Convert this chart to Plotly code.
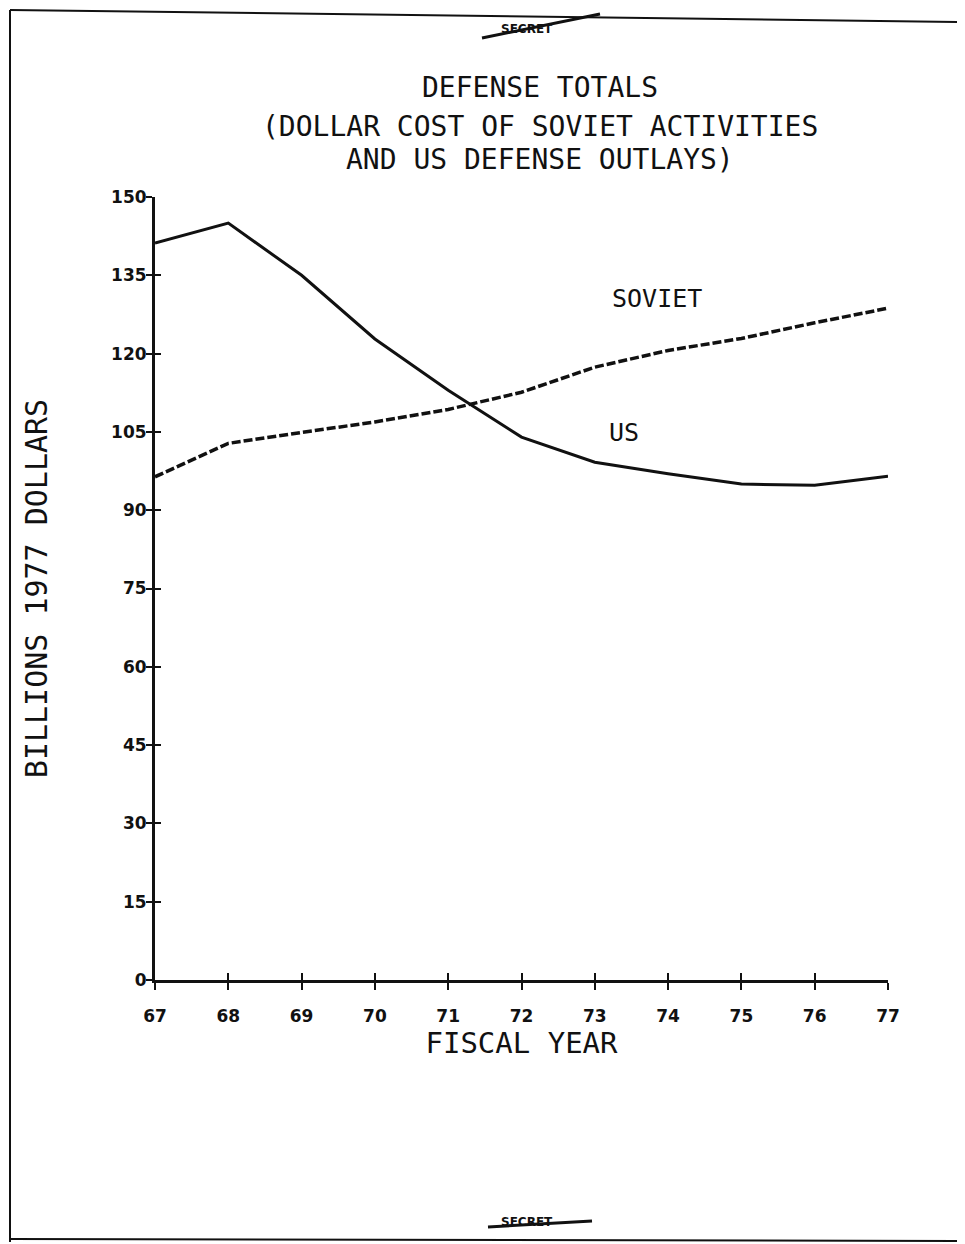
import plotly.graph_objects as go

# ---- data ----
years = [67, 68, 69, 70, 71, 72, 73, 74, 75, 76, 77]
us_outlays = [141.2, 145.0, 135.0, 122.8, 113.0, 104.0, 99.2, 97.0, 95.0, 94.8, 96.5]
soviet_cost = [96.4, 102.8, 104.9, 106.9, 109.3, 112.6, 117.4, 120.6, 122.9, 125.9, 128.7]
x_tick_labels = ["67", "68", "69", "70", "71", "72", "73", "74", "75", "76", "77"]
y_tick_values = [0, 15, 30, 45, 60, 75, 90, 105, 120, 135, 150]

# page has an 8px body margin; plot area on screen: x 155..888, y 197..980
OFF = 8
W, H = 957, 1236
L, T = 155 - OFF, 197 - OFF
PW, PH = 733, 783
R, B = W - L - PW, H - T - PH


def px(xs):
    return (xs - 155) / PW


def py(ys):
    return (980 - ys) / PH


FONT = "DejaVu Sans"
MONO = "DejaVu Sans Mono"
INK = "#111111"

fig = go.Figure()
fig.add_trace(go.Scatter(x=years, y=us_outlays, mode="lines", name="US",
                         line=dict(color=INK, width=3)))
fig.add_trace(go.Scatter(x=years, y=soviet_cost, mode="lines", name="SOVIET",
                         line=dict(color=INK, width=3.5, dash="9px,3px")))
# invisible trace on the secondary axes so the crossing tick marks are drawn
fig.add_trace(go.Scatter(x=[years[0]], y=[y_tick_values[0]], xaxis="x2", yaxis="y2",
                         mode="markers", marker=dict(opacity=0), hoverinfo="skip",
                         showlegend=False))

tick_common = dict(showgrid=False, zeroline=False, tickwidth=2, tickcolor=INK)

fig.update_layout(
    width=W, height=H,
    margin=dict(l=L, r=R, t=T, b=B),
    paper_bgcolor="white", plot_bgcolor="white",
    showlegend=False,
    font=dict(family=FONT, color=INK),
    xaxis=dict(range=[67, 77], tickvals=years, ticktext=x_tick_labels,
               showline=True, linecolor=INK, linewidth=3,
               ticks="outside", ticklen=7, ticklabelstandoff=12,
               tickfont=dict(family=FONT, size=17, color=INK, weight="bold"),
               title=dict(text="FISCAL YEAR", standoff=8,
                          font=dict(family=MONO, size=29, color=INK)),
               **tick_common),
    yaxis=dict(range=[0, 150], tickvals=y_tick_values,
               showline=True, linecolor=INK, linewidth=3,
               ticks="outside", ticklen=6, ticklabelstandoff=-4,
               tickfont=dict(family=FONT, size=17, color=INK, weight="bold"),
               title=dict(text="BILLIONS 1977 DOLLARS", standoff=55,
                          font=dict(family=MONO, size=30, color=INK)),
               **tick_common),
    xaxis2=dict(range=[67, 77], tickvals=years, overlaying="x", side="bottom",
                ticks="inside", ticklen=7, showticklabels=False, showline=False,
                **tick_common),
    yaxis2=dict(range=[0, 150], tickvals=y_tick_values, overlaying="y", side="left",
                ticks="inside", ticklen=6, showticklabels=False, showline=False,
                **tick_common),
)

# title lines
title_lines = ["DEFENSE TOTALS", "(DOLLAR COST OF SOVIET ACTIVITIES",
               "AND US DEFENSE OUTLAYS)"]
title_y = [87, 126, 160]
for txt, yy in zip(title_lines, title_y):
    fig.add_annotation(text=txt, xref="paper", yref="paper",
                       x=px(540), y=py(yy), xanchor="center", yanchor="middle",
                       showarrow=False, font=dict(family=MONO, size=28, color=INK))

# series labels
fig.add_annotation(text="SOVIET", x=73.85, y=130.6, showarrow=False,
                   xanchor="center", yanchor="middle",
                   font=dict(family=MONO, size=25, color=INK))
fig.add_annotation(text="US", x=73.4, y=104.8, showarrow=False,
                   xanchor="center", yanchor="middle",
                   font=dict(family=MONO, size=25, color=INK))

# "SECRET" stamps
for yy in (29, 1222):
    fig.add_annotation(text="<b>SECRET</b>", xref="paper", yref="paper",
                       x=px(527), y=py(yy), showarrow=False,
                       xanchor="center", yanchor="middle",
                       font=dict(family=FONT, size=12, color=INK))
fig.add_shape(type="line", xref="paper", yref="paper",
              x0=px(482), y0=py(38), x1=px(600), y1=py(14),
              line=dict(color=INK, width=3))
fig.add_shape(type="line", xref="paper", yref="paper",
              x0=px(488), y0=py(1227), x1=px(592), y1=py(1221),
              line=dict(color=INK, width=3))

# page frame lines from the scanned sheet
fig.add_shape(type="line", xref="paper", yref="paper",
              x0=px(10), y0=py(10), x1=px(10), y1=py(1242),
              line=dict(color=INK, width=2))
fig.add_shape(type="line", xref="paper", yref="paper",
              x0=px(10), y0=py(10), x1=px(965), y1=py(22),
              line=dict(color=INK, width=2))
fig.add_shape(type="line", xref="paper", yref="paper",
              x0=px(10), y0=py(1239), x1=px(960), y1=py(1241),
              line=dict(color=INK, width=2))
fig.add_shape(type="line", xref="paper", yref="paper",
              x0=px(959), y0=py(1120), x1=px(959), y1=py(1241),
              line=dict(color=INK, width=2))

fig.write_html("out.html")
